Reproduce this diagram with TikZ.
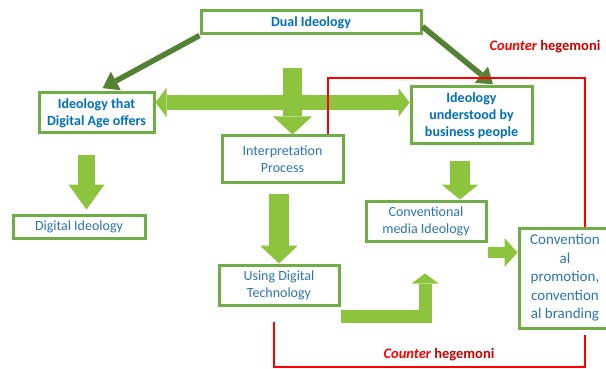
\documentclass[tikz,border=0pt]{standalone}
\usepackage{fontspec}
\setmainfont{Carlito}
\usetikzlibrary{arrows.meta}
\definecolor{boxgreen}{RGB}{112,173,71}
\definecolor{arrowgreen}{RGB}{141,196,62}
\definecolor{darkgreen}{RGB}{84,130,53}
\definecolor{boldblue}{RGB}{0,112,192}
\definecolor{textblue}{RGB}{46,117,182}
\definecolor{hegred}{RGB}{205,0,0}
\tikzset{
    box/.style={draw=boxgreen, line width=3pt, fill=white, align=center, inner sep=0pt, text=textblue, font=\fontsize{14}{17}\selectfont}
}
\tikzset{
    boldbox/.style={box, text=boldblue, font=\bfseries\fontsize{14}{17}\selectfont},
    blockarrow/.style n args={3}{draw=arrowgreen, line width=#1, line join=miter, -{Triangle[width=#2, length=#3, line width=0pt]}},
    darkarrow/.style={draw=darkgreen, line width=5.5pt, -{Triangle[width=21pt, length=15pt, line width=0pt]}},
    counter/.style={draw=red, line width=1.5pt}
}

\begin{document}
\begin{tikzpicture}[x=1pt, y=-1pt]
    \useasboundingbox (0,0) rectangle (606,369);

    \node (dual) [boldbox, minimum width=220pt, minimum height=23pt] at (311,22.5) {Dual Ideology};
    \node (digage) [boldbox, minimum width=115pt, minimum height=40pt] at (96.5,113) {Ideology that\\Digital Age offers};
    \node (interp) [box, minimum width=121pt, minimum height=46pt] at (282.5,159) {Interpretation\\Process};
    \node (business) [boldbox, minimum width=121pt, minimum height=57pt] at (471.5,115.5) {Ideology\\understood by\\business people};
    \node (digital) [box, minimum width=132pt, minimum height=23pt] at (79,226.5) {Digital Ideology};
    \node (using) [box, minimum width=120pt, minimum height=40pt] at (279,285) {Using Digital\\Technology};
    \node (media) [box, minimum width=120pt, minimum height=40pt] at (426,221) {Conventional\\media Ideology};
    \node (conv) [box, font=\fontsize{15}{18.5}\selectfont, minimum width=92pt, minimum height=100pt] at (565,278) {Convention\\al\\promotion,\\convention\\al branding};

  \coordinate (hy) at (0,102.5);
  \coordinate (vx) at (292.5,68);
  \coordinate (ax) at (86.5,0);
  \coordinate (bx) at (279,0);
  \coordinate (cx) at (460,0);
  \coordinate (dy) at (0,252.5);
  \coordinate (ec) at (425,316);

  \draw[blockarrow={15pt}{29pt}{11pt}, {Triangle[width=29pt, length=11pt, line width=0pt]}-{Triangle[width=29pt, length=11pt, line width=0pt]}] (digage.east |- hy) -- (business.west |- hy);
  \draw[blockarrow={19pt}{39pt}{18pt}] (vx) -- (interp.north -| vx);
  \draw[blockarrow={17pt}{36pt}{25pt}, shorten <=21pt, shorten >=4pt] (digage.south -| ax) -- (digital.north -| ax);
  \draw[blockarrow={20pt}{38pt}{18pt}, shorten <=10pt] (interp.south -| bx) -- (using.north -| bx);
  \draw[blockarrow={20pt}{37pt}{15pt}, shorten <=15pt] (business.south -| cx) -- (media.north -| cx);
  \draw[blockarrow={11pt}{29pt}{13pt}] (media.east |- dy) -- (conv.west |- dy);
  \draw[blockarrow={13pt}{27pt}{10pt}, shorten >=31pt] (using.east |- ec) -| (media.south -| ec);

  \draw[darkarrow, shorten >=7pt] (dual.south west) -- (digage.north);
  \draw[darkarrow, shorten >=2pt] ([yshift=-4pt]dual.east) -- ([xshift=23pt]business.north);

  \coordinate (rl) at (328,78);
  \coordinate (rr) at (585,78);
  \coordinate (s0) at (274,322);
  \coordinate (sl) at (274,367);
  \coordinate (sr) at (585,367);
  \coordinate (s3) at (585,335);
  \draw[counter] (interp.north -| rl) -- (rl) -- (rr) -- (conv.north -| rr);
  \draw[counter] (s0) -- (sl) -- (sr) -- (s3);

  \node (topnote) [font=\bfseries\fontsize{14.5}{17}\selectfont] at (545,47) {\textcolor{red}{\itshape Counter} \textcolor{hegred}{hegemoni}};
  \node (botnote) [font=\bfseries\fontsize{14.5}{17}\selectfont] at (439,355) {\textcolor{red}{\itshape Counter} \textcolor{hegred}{hegemoni}};
\end{tikzpicture}
\end{document}
